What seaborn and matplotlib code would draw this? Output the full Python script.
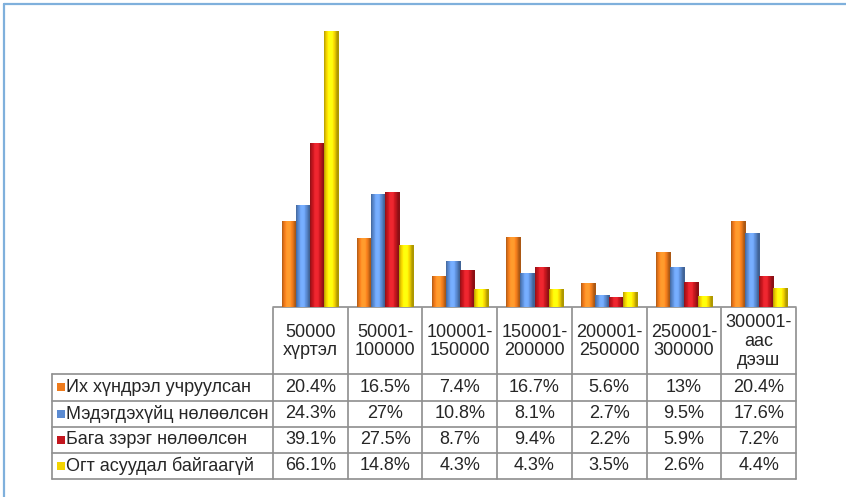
import numpy as np
import pandas as pd
import matplotlib
matplotlib.use("Agg")
import matplotlib.pyplot as plt
import seaborn as sns
from matplotlib.patches import Rectangle

categories = ["50000\nхүртэл", "50001-\n100000", "100001-\n150000", "150001-\n200000",
              "200001-\n250000", "250001-\n300000", "300001-\nаас\nдээш"]
series = ["Их хүндрэл учруулсан", "Мэдэгдэхүйц нөлөөлсөн", "Бага зэрэг нөлөөлсөн", "Огт асуудал байгаагүй"]
s_ih = [20.4, 16.5, 7.4, 16.7, 5.6, 13.0, 20.4]
s_med = [24.3, 27.0, 10.8, 8.1, 2.7, 9.5, 17.6]
s_baga = [39.1, 27.5, 8.7, 9.4, 2.2, 5.9, 7.2]
s_ogt = [66.1, 14.8, 4.3, 4.3, 3.5, 2.6, 4.4]
labels_ih = ["20.4%", "16.5%", "7.4%", "16.7%", "5.6%", "13%", "20.4%"]
labels_med = ["24.3%", "27%", "10.8%", "8.1%", "2.7%", "9.5%", "17.6%"]
labels_baga = ["39.1%", "27.5%", "8.7%", "9.4%", "2.2%", "5.9%", "7.2%"]
labels_ogt = ["66.1%", "14.8%", "4.3%", "4.3%", "3.5%", "2.6%", "4.4%"]
colors = ["#EE7B1C", "#5B8BD2", "#C3161E", "#F3D400"]

sns.set_theme(style="white")
plt.rcParams["font.family"] = ["Liberation Sans", "DejaVu Sans"]

values = [s_ih, s_med, s_baga, s_ogt]
rows = []
for sname, vals in zip(series, values):
    for c, v in zip(categories, vals):
        rows.append({"cat": c, "series": sname, "val": v})
df = pd.DataFrame(rows)

W, H = 846, 497
fig = plt.figure(figsize=(W / 100, H / 100), dpi=100)

bg = fig.add_axes([0, 0, 1, 1])
bg.set_xlim(0, W)
bg.set_ylim(H, 0)
bg.axis("off")

x_left, x_right = 273, 796
y_base = 307
ymax = 70
px_per = (307 - 31) / 66.1
y_top = y_base - ymax * px_per
ax = fig.add_axes([x_left / W, (H - y_base) / H, (x_right - x_left) / W, (y_base - y_top) / H])
sns.barplot(data=df, x="cat", y="val", hue="series", palette=colors, width=0.75,
            saturation=1, legend=False, ax=ax, linewidth=0)
ax.set_ylim(0, ymax)
xl = ax.get_xlim()
ax.axis("off")

# cylinder-like shading
for p in list(ax.patches):
    x0, y0, w, h = p.get_x(), p.get_y(), p.get_width(), p.get_height()
    base = np.array(p.get_facecolor()[:3])
    t = np.linspace(0, 1, 60)
    f = 0.72 + 0.45 * np.sin(np.pi * np.clip(t * 1.15, 0, 1)) ** 0.8
    img = np.clip(base[None, :] * f[:, None] + (f[:, None] > 1.1) * 0.05, 0, 1)[None, :, :]
    ax.imshow(img, extent=[x0, x0 + w, y0, y0 + h], aspect="auto", clip_path=p,
              zorder=p.get_zorder() + 0.1, interpolation="bilinear")
ax.set_xlim(xl)
ax.set_ylim(0, ymax)

# table
gray = "#8E8E8E"
lw = 1.2
tc = "#262626"
fs = 13
cols = np.linspace(x_left, x_right, len(categories) + 1)
row_y = [374, 400.5, 427, 453, 479]
tab_left = 52
bg.plot([x_left, x_right], [y_base, y_base], color=gray, lw=lw)
for x in cols:
    bg.plot([x, x], [y_base + 1, row_y[-1]], color=gray, lw=lw)
for y in row_y:
    bg.plot([tab_left, x_right], [y, y], color=gray, lw=lw)
bg.plot([tab_left, tab_left], [row_y[0], row_y[-1]], color=gray, lw=lw)

for i, c in enumerate(categories):
    cx = (cols[i] + cols[i + 1]) / 2
    bg.text(cx, (y_base + row_y[0]) / 2 + 1, c, ha="center", va="center", fontsize=fs,
            color=tc, linespacing=1.15)

all_labels = [labels_ih, labels_med, labels_baga, labels_ogt]
for r, (sname, labs, col) in enumerate(zip(series, all_labels, colors)):
    cy = (row_y[r] + row_y[r + 1]) / 2
    bg.add_patch(Rectangle((57, cy - 4), 8, 8, facecolor=col, edgecolor="none"))
    bg.text(66, cy, sname, ha="left", va="center", fontsize=fs, color=tc)
    for i, lab in enumerate(labs):
        cx = (cols[i] + cols[i + 1]) / 2
        bg.text(cx, cy, lab, ha="center", va="center", fontsize=fs, color=tc)

frame = "#7FB0DC"
bg.plot([4, 4], [4, H], color=frame, lw=1.6)
bg.plot([4, W], [4, 4], color=frame, lw=1.6)

fig.savefig("out.png", dpi=100)
